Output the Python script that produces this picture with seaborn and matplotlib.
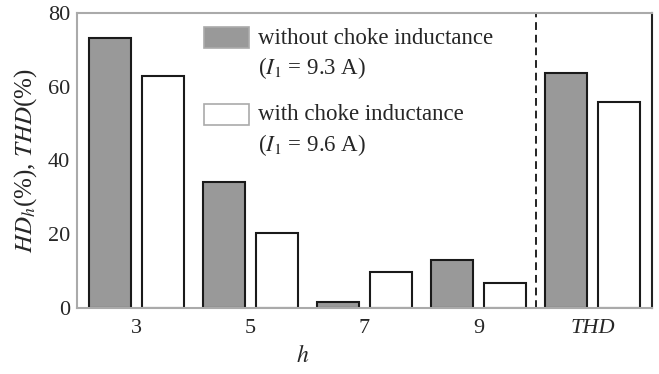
import matplotlib
matplotlib.use("Agg")
import matplotlib.pyplot as plt
import seaborn as sns
import pandas as pd
from matplotlib.ticker import MultipleLocator
from matplotlib.patches import Rectangle

# Data
categories = ["3", "5", "7", "9", "THD"]
without_choke = [73.1, 34.1, 1.5, 13.0, 63.8]
with_choke = [63.0, 20.3, 9.7, 6.9, 55.9]
series_names = ["without choke inductance", "with choke inductance"]
currents = ["($I_1$ = 9.3 A)", "($I_1$ = 9.6 A)"]

df = pd.DataFrame({
    "h": categories * 2,
    "value": without_choke + with_choke,
    "series": [series_names[0]] * len(categories) + [series_names[1]] * len(categories),
})

sns.set_style("white")
plt.rcParams["font.family"] = ["Liberation Serif", "DejaVu Serif"]
plt.rcParams["mathtext.fontset"] = "stix"
FS_TICK = 16
FS_LEG = 16.5
FS_YLAB = 18

fig = plt.figure(figsize=(6.59, 3.74), dpi=100)
ax = fig.add_axes([77 / 659, 66 / 374, 575 / 659, 295 / 374])

sns.barplot(data=df, x="h", y="value", hue="series", order=categories,
            hue_order=series_names,
            palette={series_names[0]: "#999999", series_names[1]: "white"},
            edgecolor="#1a1a1a", linewidth=1.5, width=0.92, gap=0.2,
            saturation=1, legend=False, ax=ax)

ax.set_xlim(-0.52, 4.52)
ax.set_ylim(0, 80)
ax.axvline(3.5, color="#222222", lw=1.4, ls=(0, (4, 2.5)))

# spines
for s in ["left", "top", "bottom"]:
    ax.spines[s].set_color("#aaaaaa")
    ax.spines[s].set_linewidth(1.5)
ax.spines["right"].set_color("#222222")
ax.spines["right"].set_linewidth(1.5)

ax.yaxis.set_major_locator(MultipleLocator(20))
ax.yaxis.set_minor_locator(MultipleLocator(10))
ax.tick_params(axis="y", which="major", length=0, labelsize=FS_TICK, pad=5)
ax.tick_params(axis="y", which="minor", length=7, width=1.2, color="#999999", direction="in")
ax.tick_params(axis="x", which="major", length=7, width=1.5, color="#aaaaaa", direction="in",
               labelsize=FS_TICK, pad=8)
ax.set_xticks(range(len(categories)))
ax.set_xticklabels(categories)
for lbl in ax.get_xticklabels():
    if lbl.get_text() == "THD":
        lbl.set_fontstyle("italic")

ax.set_ylabel("$HD_h$(%), $THD$(%)", fontsize=FS_YLAB, labelpad=6)
ax.set_xlabel("$h$", fontsize=FS_YLAB - 1)
ax.xaxis.set_label_coords((303 - 77) / 575, -0.125)

# legend (manual layout of patches and text)
leg_colors = ["#999999", "white"]
patch_tops = [27, 104]
for i in range(2):
    y0 = patch_tops[i]
    fig.patches.append(Rectangle((204 / 659, 1 - (y0 + 21) / 374), 45 / 659, 21 / 374,
                                 transform=fig.transFigure, facecolor=leg_colors[i],
                                 edgecolor="#aaaaaa", lw=1.2))
    fig.text(258 / 659, 1 - (y0 + 11) / 374, series_names[i], fontsize=FS_LEG,
             va="center", ha="left")
    fig.text(258 / 659, 1 - (y0 + 41) / 374, currents[i], fontsize=FS_LEG,
             va="center", ha="left")

fig.savefig("out.png", dpi=100)
